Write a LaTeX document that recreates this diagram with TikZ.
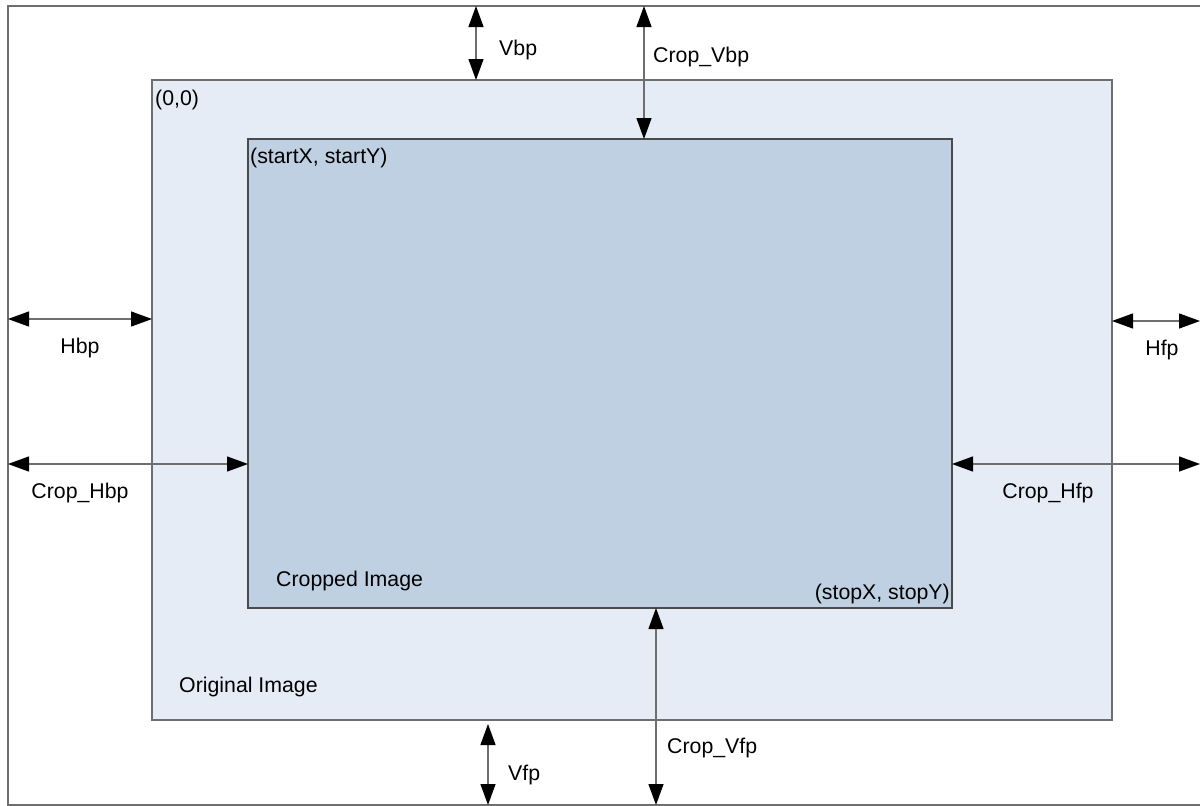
\documentclass[tikz,border=0pt]{standalone}
\usepackage{fontspec}
\setmainfont{Liberation Sans}
\usetikzlibrary{arrows.meta}
\definecolor{origfill}{HTML}{E6ECF6}
\definecolor{cropfill}{HTML}{BED0E2}
\definecolor{frame}{HTML}{6E6E6E}
\definecolor{cropframe}{HTML}{4A4A4A}
\tikzset{
  dim/.style={draw=frame, line width=1.3pt, {Triangle[length=21pt,width=15pt,color=black]}-{Triangle[length=21pt,width=15pt,color=black]}},
  lbl/.style={font=\fontsize{21.3pt}{25pt}\selectfont, inner sep=0pt, text=black},
}
\begin{document}
\begin{tikzpicture}[x=1pt,y=-1pt]
\useasboundingbox (0,0) rectangle (1200,806);
\clip (0,0) rectangle (1200,806);
% outer frame
\draw[frame, line width=1.5pt] (8,6) rectangle (1210,805);
% original image
\draw[draw=frame, fill=origfill, line width=1.3pt] (152,80) rectangle (1112,720);
% cropped image
\draw[draw=cropframe, fill=cropfill, line width=1.3pt] (248,139) rectangle (952,608);
% named coordinates
\coordinate (vbpT) at (476,6);   \coordinate (vbpB) at (476,80);
\coordinate (cvbpT) at (644,6);  \coordinate (cvbpB) at (644,139);
\coordinate (hbpL) at (8,319);   \coordinate (hbpR) at (152,319);
\coordinate (chbpL) at (8,464);  \coordinate (chbpR) at (248,464);
\coordinate (hfpL) at (1112,321); \coordinate (hfpR) at (1200,321);
\coordinate (chfpL) at (952,464); \coordinate (chfpR) at (1200,464);
\coordinate (vfpT) at (488,724); \coordinate (vfpB) at (488,805);
\coordinate (cvfpT) at (656,608); \coordinate (cvfpB) at (656,805);
% dimension arrows
\draw[dim] (vbpT) -- (vbpB);
\draw[dim] (cvbpT) -- (cvbpB);
\draw[dim] (hbpL) -- (hbpR);
\draw[dim] (chbpL) -- (chbpR);
\draw[dim] (hfpL) -- (hfpR);
\draw[dim] (chfpL) -- (chfpR);
\draw[dim] (vfpT) -- (vfpB);
\draw[dim] (cvfpT) -- (cvfpB);
% labels
\node[lbl, anchor=west] (lvbp) at (499,50) {Vbp};
\node[lbl, anchor=west] (lcvbp) at (653,57) {Crop\_Vbp};
\node[lbl] (lhbp) at (80,348) {Hbp};
\node[lbl] (lhfp) at (1162,350) {Hfp};
\node[lbl] (lchbp) at (80,493) {Crop\_Hbp};
\node[lbl] (lchfp) at (1048,493) {Crop\_Hfp};
\node[lbl, anchor=west] (lvfp) at (508,775) {Vfp};
\node[lbl, anchor=west] (lcvfp) at (667,748) {Crop\_Vfp};
\node[lbl, anchor=west] (lorigin) at (155,100) {(0,0)};
\node[lbl, anchor=west] (lstart) at (250,158) {(startX, startY)};
\node[lbl, anchor=east] (lstop) at (950,594) {(stopX, stopY)};
\node[lbl, anchor=west] (lcrop) at (276,581) {Cropped Image};
\node[lbl, anchor=west] (lorig) at (179,687) {Original Image};
\end{tikzpicture}
\end{document}
